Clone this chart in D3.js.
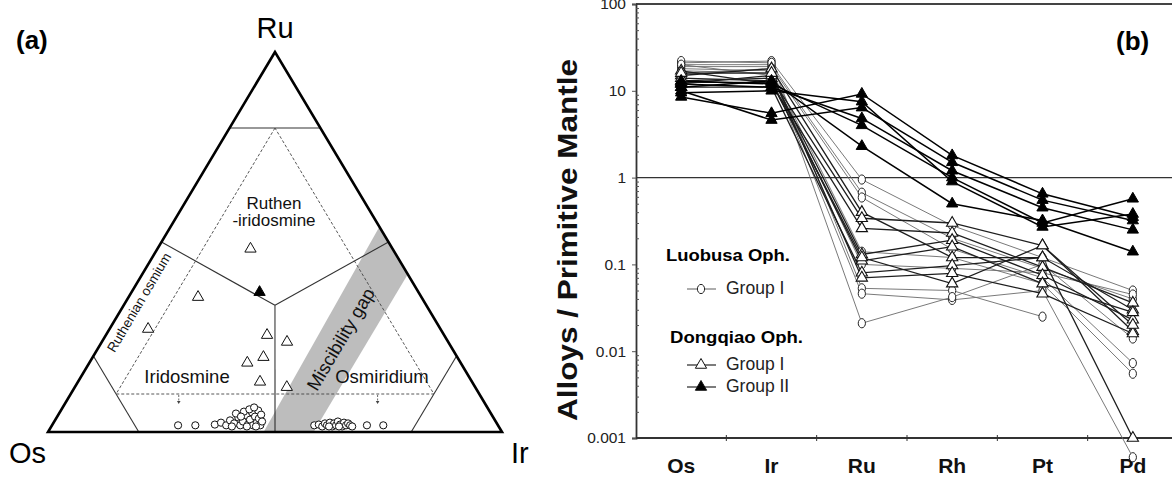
<!DOCTYPE html>
<html>
<head>
<meta charset="utf-8">
<script src="https://cdn.jsdelivr.net/npm/d3@7"></script>
<style>
  body { margin: 0; background: #fff; }
  svg { display: block; font-family: "Liberation Sans", Arial, sans-serif; }
  .narrow { font-family: "Liberation Sans Narrow", "Arial Narrow", "Liberation Sans", sans-serif; }
</style>
</head>
<body>
<div id="chart"></div>
<script>
// ---------- (b) spider plot data ----------
const elements = ["Os", "Ir", "Ru", "Rh", "Pt", "Pd"];
const yTicks = [0.001, 0.01, 0.1, 1, 10, 100];
const yTickLabels = ["0.001", "0.01", "0.1", "1", "10", "100"];

// Luobusa Oph. Group I (open circles)
const luobusaG1 = [
  [21, 22, 0.95, 0.28, 0.12, 0.05],
  [20, 20, 0.67, 0.20, 0.09, 0.04],
  [19, 19, 0.59, 0.15, 0.07, 0.0073],
  [18, 17, 0.14, 0.12, 0.06, 0.0055],
  [22, 21, 0.053, 0.05, 0.025, null],
  [17, 16, 0.046, 0.039, 0.05, 0.0006],
  [16, 18, 0.021, 0.042, 0.10, 0.014],
  [20, 15, 0.10, 0.09, 0.08, 0.045]
];
// Dongqiao Oph. Group I (open triangles)
const dongqiaoG1 = [
  [15, 18, 0.40, 0.12, 0.12, 0.03],
  [13, 14, 0.34, 0.30, 0.165, 0.017],
  [17, 12, 0.26, 0.23, 0.093, 0.036],
  [12, 15, 0.13, 0.19, 0.075, 0.023],
  [14, 13, 0.11, 0.16, 0.06, 0.028],
  [11, 11, 0.08, 0.097, 0.12, 0.001],
  [16, 16, 0.07, 0.079, 0.046, 0.016],
  [12.5, 12.5, 0.12, 0.06, 0.165, 0.02]
];
// Dongqiao Oph. Group II (filled triangles)
const dongqiaoG2 = [
  [8.5, 5.5, 9.2, 1.8, 0.65, 0.35],
  [10, 4.6, 6.4, 1.5, 0.55, 0.32],
  [12, 11, 4.8, 1.2, 0.45, 0.25],
  [13, 12, 4.0, 1.0, 0.30, 0.57],
  [11, 13, 2.3, 0.5, 0.32, 0.14],
  [9.5, 10, 7.5, 0.9, 0.27, 0.38]
];

// ---------- (a) ternary data, [Ru %, Ir %] (Os = rest) ----------
const ternOpenTri = [
  [48.2, 20.5], [35.5, 15.3], [27.1, 8.5], [25.5, 35.5], [23.7, 40.8],
  [19.7, 37.6], [18.2, 34.8], [13.2, 40.1], [11.8, 46.7]
];
const ternFilledTri = [[36.8, 28.2]];
const ternCircles = [
  [1.1, 28.1], [1.1, 31.9],
  [1.3, 36.1], [1.8, 37.2], [1.1, 38.7], [2.4, 38.9], [1.6, 40.2], [3.2, 40.3],
  [1.1, 41.8], [2.1, 41.9], [3.7, 41.8], [1.3, 43.4], [2.6, 43.2], [4.5, 42.7],
  [1.1, 44.6], [3.4, 43.9], [1.8, 45.1], [5.0, 43.8], [2.9, 45.0], [1.1, 46.2],
  [3.9, 45.0], [2.1, 46.1], [4.7, 40.8], [5.3, 41.7], [4.2, 39.3], [0.8, 40.1],
  [3.4, 40.8], [5.8, 42.5], [0.8, 43.4], [0.8, 45.4],
  [1.1, 58.1], [1.3, 59.0], [0.8, 60.0], [1.6, 60.2], [1.1, 60.9], [1.8, 61.2],
  [0.8, 62.2], [1.6, 62.2], [1.1, 62.9], [2.1, 62.8], [1.3, 63.7], [0.8, 64.4],
  [1.8, 64.3], [1.1, 65.1], [1.6, 65.3], [1.1, 66.0], [0.8, 66.6], [0.8, 63.7],
  [0.8, 61.5], [1.1, 69.7], [1.1, 73.3]
];

const W = 1172, H = 480;
const svg = d3.select("#chart").append("svg")
  .attr("width", W).attr("height", H);

// ================= (a) ternary =================
const tx = d3.scaleLinear().domain([0, 100]).range([48, 502]);
const ty = d3.scaleLinear().domain([0, 100]).range([432, 52]);
// ru, ir in percent
const tp = (ru, ir) => [tx(ir + ru / 2), ty(ru)];
const tline = pts => "M" + pts.map(p => tp(p[0], p[1]).join(",")).join("L");

const ta = svg.append("g");

// miscibility gap band (between Ir lines, up to Os = 0)
ta.append("path")
  .attr("d", tline([[0, 47.5], [0, 58.5], [41.5, 58.5], [54, 46]]) + "Z")
  .attr("fill", "#bdbdbd");

// solid field boundaries
const solid = [
  [[80, 0], [80, 20]],           // Ru = 80
  [[0, 20], [20, 0]],            // Os = 80
  [[0, 80], [20, 80]],           // Ir = 80
  [[33.33, 33.33], [50, 0]],
  [[33.33, 33.33], [50, 50]],
  [[33.33, 33.33], [0, 50]]
];
solid.forEach(s => ta.append("path").attr("d", tline(s))
  .attr("fill", "none").attr("stroke", "#333").attr("stroke-width", 1.1));

// dashed inner triangle
ta.append("path")
  .attr("d", tline([[80, 10], [10, 10], [10, 80]]) + "Z")
  .attr("fill", "none").attr("stroke", "#444").attr("stroke-width", 0.9)
  .attr("stroke-dasharray", "3,2");

// small dashed arrows below the dashed base
[[10, 23.8], [10, 67.6]].forEach(a => {
  const [x0, y0] = tp(a[0], a[1]);
  ta.append("line").attr("x1", x0).attr("x2", x0).attr("y1", y0 + 1).attr("y2", y0 + 8)
    .attr("stroke", "#444").attr("stroke-width", 0.8).attr("stroke-dasharray", "2,1.5");
  ta.append("path").attr("d", `M${x0 - 1.8},${y0 + 7}L${x0 + 1.8},${y0 + 7}L${x0},${y0 + 10}Z`)
    .attr("fill", "#444");
});

// outer triangle
ta.append("path")
  .attr("d", tline([[100, 0], [0, 0], [0, 100]]) + "Z")
  .attr("fill", "none").attr("stroke", "#000").attr("stroke-width", 2.6)
  .attr("stroke-linejoin", "miter");

// field labels
const fieldText = (x, y, str, size, rot) => {
  const t = ta.append("text").attr("x", x).attr("y", y)
    .attr("text-anchor", "middle").attr("dominant-baseline", "middle")
    .attr("font-size", size).attr("fill", "#111").text(str);
  if (rot) t.attr("transform", `rotate(${rot},${x},${y})`);
};
fieldText(274, 205, "Ruthen", 17);
fieldText(274, 222, "-iridosmine", 17);
fieldText(187, 378, "Iridosmine", 18.5);
fieldText(382, 378, "Osmiridium", 18.5);
fieldText(140, 303, "Ruthenian osmium", 13.5, -59.5);
fieldText(342, 340, "Miscibility gap", 18.5, -59.5);

// data markers
const triSym = d3.symbol().type(d3.symbolTriangle).size(55);
ta.selectAll(".tc").data(ternCircles).enter().append("circle")
  .attr("cx", d => tp(d[0], d[1])[0]).attr("cy", d => tp(d[0], d[1])[1] - 2.5)
  .attr("r", 3.6).attr("fill", "#fff").attr("stroke", "#111").attr("stroke-width", 1);
ta.selectAll(".to").data(ternOpenTri).enter().append("path")
  .attr("d", triSym)
  .attr("transform", d => `translate(${tp(d[0], d[1])})`)
  .attr("fill", "#fff").attr("stroke", "#111").attr("stroke-width", 1);
ta.selectAll(".tf").data(ternFilledTri).enter().append("path")
  .attr("d", triSym)
  .attr("transform", d => `translate(${tp(d[0], d[1])})`)
  .attr("fill", "#000").attr("stroke", "#000");

// corner labels
ta.append("text").attr("x", 275).attr("y", 38).attr("text-anchor", "middle")
  .attr("font-size", 29).text("Ru");
ta.append("text").attr("x", 9).attr("y", 463).attr("font-size", 29).text("Os");
ta.append("text").attr("x", 511).attr("y", 463).attr("font-size", 29).text("Ir");
ta.append("text").attr("x", 16).attr("y", 49).attr("font-size", 26)
  .attr("font-weight", "bold").text("(a)");

// ================= (b) spider plot =================
const x = d3.scalePoint().domain(elements).range([636, 1178]).padding(0.5);
const y = d3.scaleLog().domain([0.001, 100]).range([438, 4]);
const gb = svg.append("g");

// frame: top line and y = 1 line
gb.append("line").attr("x1", 636).attr("x2", W).attr("y1", y(100)).attr("y2", y(100))
  .attr("stroke", "#444").attr("stroke-width", 1.8);
gb.append("line").attr("x1", 636).attr("x2", W).attr("y1", y(1)).attr("y2", y(1))
  .attr("stroke", "#333").attr("stroke-width", 1.4);

// y axis
const yAxis = gb.append("g").attr("transform", "translate(636,0)")
  .call(d3.axisLeft(y).tickValues(yTicks).tickSize(4).tickPadding(6)
    .tickFormat((d, i) => yTickLabels[i]));
const minor = [];
yTicks.slice(0, -1).forEach(t => { for (let k = 2; k <= 9; k++) minor.push(t * k); });
gb.append("g").attr("transform", "translate(636,0)")
  .call(d3.axisLeft(y).tickValues(minor).tickSize(-3).tickFormat(""))
  .call(g => g.select(".domain").remove());
yAxis.select(".domain").attr("stroke", "#333").attr("stroke-width", 1.8);
yAxis.selectAll("text").attr("class", "narrow").attr("font-size", 15.5).attr("fill", "#222");
gb.selectAll(".tick line").attr("stroke", "#555");

// x axis with ticks between categories
const step = x.step();
const bounds = elements.map(e => x(e) + step / 2);
gb.append("line").attr("x1", 636).attr("x2", W).attr("y1", y(0.001)).attr("y2", y(0.001))
  .attr("stroke", "#333").attr("stroke-width", 1.8);
gb.selectAll(".xt").data(bounds).enter().append("line")
  .attr("x1", d => d).attr("x2", d => d)
  .attr("y1", y(0.001) - 3).attr("y2", y(0.001) + 3)
  .attr("stroke", "#333").attr("stroke-width", 1);
gb.selectAll(".xl").data(elements).enter().append("text")
  .attr("class", "narrow")
  .attr("x", d => x(d)).attr("y", 473).attr("text-anchor", "middle")
  .attr("font-size", 21).attr("font-weight", "bold").attr("fill", "#111")
  .text(d => d);

// y title
gb.append("text")
  .attr("transform", "translate(577,240) rotate(-90)")
  .attr("text-anchor", "middle")
  .attr("font-size", 28).attr("font-weight", "bold").attr("fill", "#111")
  .attr("textLength", 362).attr("lengthAdjust", "spacingAndGlyphs")
  .text("Alloys / Primitive Mantle");

gb.append("text").attr("x", 1116).attr("y", 50).attr("font-size", 26)
  .attr("font-weight", "bold").text("(b)");

// series lines
const lineGen = d3.line()
  .defined(d => d != null)
  .x((d, i) => x(elements[i])).y(d => y(d));

const series = [
  { data: luobusaG1, color: "#6a6a6a", width: 0.9 },
  { data: dongqiaoG1, color: "#1e1e1e", width: 1.3 },
  { data: dongqiaoG2, color: "#000", width: 1.5 }
];
series.forEach(s => {
  gb.selectAll(null).data(s.data).enter().append("path")
    .attr("d", lineGen).attr("fill", "none")
    .attr("stroke", s.color).attr("stroke-width", s.width);
});

const pts = arr => arr.flatMap(r => r.map((v, i) => ({ v, i })).filter(p => p.v != null));
gb.selectAll(".lc").data(pts(luobusaG1)).enter().append("ellipse")
  .attr("cx", d => x(elements[d.i])).attr("cy", d => y(d.v))
  .attr("rx", 3.6).attr("ry", 4.6)
  .attr("fill", "#fff").attr("stroke", "#222").attr("stroke-width", 1);
gb.selectAll(".d1").data(pts(dongqiaoG1)).enter().append("path")
  .attr("d", triSym)
  .attr("transform", d => `translate(${x(elements[d.i])},${y(d.v)})`)
  .attr("fill", "#fff").attr("stroke", "#111").attr("stroke-width", 1.1);
gb.selectAll(".d2").data(pts(dongqiaoG2)).enter().append("path")
  .attr("d", triSym)
  .attr("transform", d => `translate(${x(elements[d.i])},${y(d.v)})`)
  .attr("fill", "#000").attr("stroke", "#000");

// legend
const lg = gb.append("g");
lg.append("text").attr("x", 666).attr("y", 261)
  .attr("font-size", 17).attr("font-weight", "bold")
  .attr("textLength", 124).attr("lengthAdjust", "spacingAndGlyphs").text("Luobusa Oph.");
lg.append("text").attr("x", 670).attr("y", 343)
  .attr("font-size", 17).attr("font-weight", "bold")
  .attr("textLength", 133).attr("lengthAdjust", "spacingAndGlyphs").text("Dongqiao Oph.");
const legendRows = [
  { y: 289, label: "Group I", kind: "circle" },
  { y: 365, label: "Group I", kind: "open" },
  { y: 387, label: "Group II", kind: "filled" }
];
legendRows.forEach(r => {
  lg.append("line").attr("x1", 687).attr("x2", 716).attr("y1", r.y).attr("y2", r.y)
    .attr("stroke", r.kind === "circle" ? "#6a6a6a" : "#111").attr("stroke-width", 1.1);
  if (r.kind === "circle") {
    lg.append("ellipse").attr("cx", 701).attr("cy", r.y).attr("rx", 3.6).attr("ry", 4.6)
      .attr("fill", "#fff").attr("stroke", "#222");
  } else {
    lg.append("path").attr("d", triSym).attr("transform", `translate(701,${r.y})`)
      .attr("fill", r.kind === "open" ? "#fff" : "#000").attr("stroke", "#111");
  }
  lg.append("text").attr("x", 726).attr("y", r.y).attr("dominant-baseline", "middle")
    .attr("font-size", 17.5).attr("fill", "#222").text(r.label);
});
</script>
</body>
</html>
